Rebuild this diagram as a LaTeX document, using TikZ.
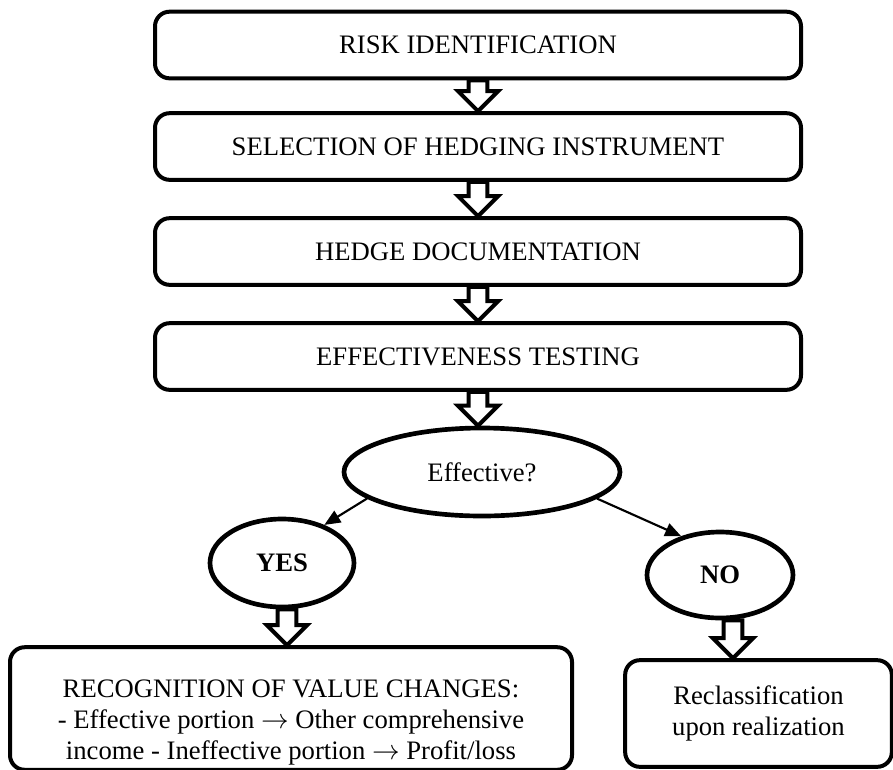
\documentclass[tikz,border=0pt]{standalone}
\usepackage{fontspec}
\setmainfont{Liberation Serif}
\usepackage{tikz}
\usetikzlibrary{shapes.geometric, arrows.meta, calc}

\tikzstyle{stage} = [draw, line width=3pt, rounded corners=11pt, minimum width=484.5pt, minimum height=50pt, align=center, font=\fontsize{20}{23.5}\selectfont]
\tikzstyle{query} = [draw, ellipse, line width=3.5pt, inner sep=0pt, font=\fontsize{20}{23.5}\selectfont]
\tikzstyle{arrow} = [-{Triangle[length=12pt, width=10pt]}, line width=1.6pt]
\tikzstyle{fatarrow} = [draw, fill=white, line width=3pt, line join=miter]

% hollow block arrow, tip taken straight below the start point
\newcommand{\fatstep}[2]{%
  \path[fatarrow] let \p1 = (#1), \p2 = (#2) in
    (\x1-7pt,\y1) -- (\x1-7pt,\y2+15pt) -- (\x1-15pt,\y2+15pt) -- (\x1,\y2)
    -- (\x1+15pt,\y2+15pt) -- (\x1+7pt,\y2+15pt) -- (\x1+7pt,\y1) -- cycle;}

\begin{document}
\begin{tikzpicture}[x=0.75pt, y=-0.75pt]
    \useasboundingbox (0,0) rectangle (893,769);
    \node[stage] (risk) at (478,45) {RISK IDENTIFICATION};
    \node[stage] (select) at (478,146.5) {SELECTION OF HEDGING INSTRUMENT};
    \node[stage] (doc) at (478,251.5) {HEDGE DOCUMENTATION};
    \node[stage] (test) at (478,356.5) {EFFECTIVENESS TESTING};
    \node[query, minimum width=207pt, minimum height=66pt] (eff) at (482,472) {Effective?};
    \node[query, minimum width=108pt, minimum height=66pt, font=\fontsize{20}{23.5}\selectfont\bfseries] (yes) at (282,563) {YES};
    \node[query, minimum width=109.5pt, minimum height=64.5pt, font=\fontsize{20}{23.5}\selectfont\bfseries] (no) at (720,575) {NO};
    \node[stage, minimum width=421.5pt, minimum height=87.75pt] (recog) at (291,708.5)
    {\rule{0pt}{34pt}RECOGNITION OF VALUE CHANGES:\\- Effective portion $\rightarrow$ Other comprehensive\\income - Ineffective portion $\rightarrow$ Profit/loss};
    \node[stage, minimum width=200pt, minimum height=80pt] (reclass) at (758.5,713.5)
    {Reclassification\\upon realization};
    \fatstep{risk.south}{select.north}
    \fatstep{select.south}{doc.north}
    \fatstep{doc.south}{test.north}
    \fatstep{test.south}{eff.north}
    \draw[arrow] (eff.193) -- (yes.42);
    \draw[arrow] (eff.-13) -- (no.135);
    \fatstep{$(yes.south)+(5,0)$}{recog.north}
    \fatstep{$(no.south)+(13,0)$}{reclass.north}
\end{tikzpicture}
\end{document}
